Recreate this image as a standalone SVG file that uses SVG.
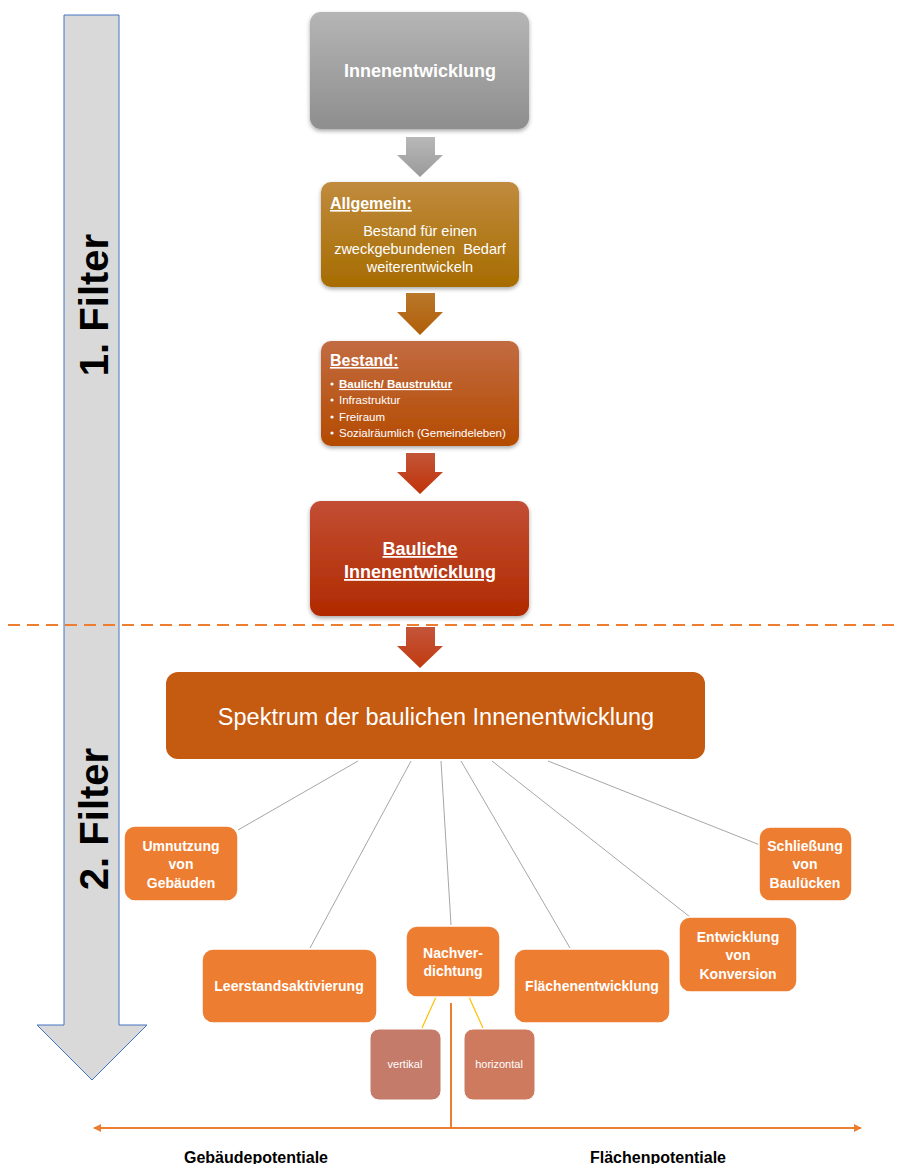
<svg xmlns="http://www.w3.org/2000/svg" width="906" height="1164" viewBox="0 0 906 1164">
<defs>
<linearGradient id="gGray" x1="0" y1="0" x2="0" y2="1"><stop offset="0" stop-color="#b5b5b5"/><stop offset="1" stop-color="#8e8e8e"/></linearGradient>
<linearGradient id="gAll" x1="0" y1="0" x2="0" y2="1"><stop offset="0" stop-color="#c08b3e"/><stop offset="1" stop-color="#a66c00"/></linearGradient>
<linearGradient id="gBes" x1="0" y1="0" x2="0" y2="1"><stop offset="0" stop-color="#c26b42"/><stop offset="1" stop-color="#b44b00"/></linearGradient>
<linearGradient id="gBau" x1="0" y1="0" x2="0" y2="1"><stop offset="0" stop-color="#c24e34"/><stop offset="1" stop-color="#b02a00"/></linearGradient>
<linearGradient id="aGray" x1="0" y1="0" x2="0" y2="1"><stop offset="0" stop-color="#b8b8b8"/><stop offset="1" stop-color="#9a9a9a"/></linearGradient>
<linearGradient id="aAll" x1="0" y1="0" x2="0" y2="1"><stop offset="0" stop-color="#b9782a"/><stop offset="1" stop-color="#b05e08"/></linearGradient>
<linearGradient id="aBes" x1="0" y1="0" x2="0" y2="1"><stop offset="0" stop-color="#c25638"/><stop offset="1" stop-color="#c03208"/></linearGradient>
<linearGradient id="aBau" x1="0" y1="0" x2="0" y2="1"><stop offset="0" stop-color="#c4553a"/><stop offset="1" stop-color="#c03a10"/></linearGradient>
<filter id="sh" x="-10%" y="-10%" width="120%" height="130%"><feDropShadow dx="0" dy="2" stdDeviation="2" flood-color="#000" flood-opacity="0.35"/></filter>
<marker id="ah" viewBox="0 0 10 10" refX="9" refY="5" markerWidth="4" markerHeight="4" orient="auto-start-reverse"><path d="M0,0 L10,5 L0,10 z" fill="#ed7d31"/></marker>
<style>
.t{font-family:"Liberation Sans",Arial,sans-serif;fill:#fff}
.b{font-weight:bold}
.u{text-decoration:underline}
.ob{fill:#ed7d31;stroke:#fff;stroke-width:1.5}
.con{stroke:#a6a6a6;stroke-width:1;fill:none}
.yl{stroke:#ffc000;stroke-width:1.2}
.lbl{font-family:"Liberation Sans",Arial,sans-serif;font-weight:bold;font-size:14px;fill:#fff;text-anchor:middle}
.bot{font-family:"Liberation Sans",Arial,sans-serif;font-weight:bold;font-size:16px;fill:#000;text-anchor:middle}
</style>
</defs>
<rect width="906" height="1164" fill="#fff"/>

<g id="filter-arrow">
<polygon points="64,15 119,15 119,1025 147,1025 92,1080 37,1025 64,1025" fill="#d9d9d9" stroke="#4472c4" stroke-width="1"/>
<text class="t b" transform="translate(108,305) rotate(-90)" text-anchor="middle" font-size="40" style="fill:#000">1. Filter</text>
<text class="t b" transform="translate(108,819) rotate(-90)" text-anchor="middle" font-size="40" style="fill:#000">2. Filter</text>
</g>

<g id="divider">
<line x1="8" y1="625" x2="900" y2="625" stroke="#ed7d31" stroke-width="2" stroke-dasharray="12,7"/>
</g>

<g id="connectors">
<polygon points="406,137 435,137 435,155 443,155 420,177 397,155 406,155" fill="url(#aGray)"/>
<polygon points="406,293 435,293 435,312 443,312 420,335 397,312 406,312" fill="url(#aAll)"/>
<polygon points="406,453 435,453 435,472 443,472 420,494 397,472 406,472" fill="url(#aBes)"/>
<polygon points="406,627 435,627 435,646 443,646 420,668 397,646 406,646" fill="url(#aBau)"/>
<line class="con" x1="358" y1="761" x2="238" y2="830"/>
<line class="con" x1="411" y1="761" x2="310" y2="948"/>
<line class="con" x1="441" y1="761" x2="451" y2="925"/>
<line class="con" x1="461" y1="761" x2="570" y2="948"/>
<line class="con" x1="492" y1="761" x2="690" y2="917"/>
<line class="con" x1="548" y1="761" x2="760" y2="845"/>
<line class="yl" x1="436" y1="997" x2="422" y2="1028"/>
<line class="yl" x1="469" y1="997" x2="483" y2="1028"/>
<line x1="451" y1="1003" x2="451" y2="1128" stroke="#ed7d31" stroke-width="2"/>
<line x1="94" y1="1128" x2="861" y2="1128" stroke="#ed7d31" stroke-width="2" marker-start="url(#ah)" marker-end="url(#ah)"/>
</g>

<g id="innenentwicklung">
<rect x="310" y="12" width="219" height="117" rx="11" fill="url(#gGray)" filter="url(#sh)"/>
<text class="t b" x="420" y="77" text-anchor="middle" font-size="18">Innenentwicklung</text>
</g>

<g id="allgemein">
<rect x="321" y="182" width="198" height="105" rx="10" fill="url(#gAll)" filter="url(#sh)"/>
<text class="t b u" x="330" y="209" font-size="16">Allgemein:</text>
<text class="t" x="420" y="236" text-anchor="middle" font-size="14.5">Bestand für einen</text>
<text class="t" x="420" y="254" text-anchor="middle" font-size="14.5" xml:space="preserve">zweckgebundenen  Bedarf</text>
<text class="t" x="420" y="272" text-anchor="middle" font-size="14.5">weiterentwickeln</text>
</g>

<g id="bestand">
<rect x="321" y="341" width="198" height="105" rx="10" fill="url(#gBes)" filter="url(#sh)"/>
<text class="t b u" x="330" y="366" font-size="16">Bestand:</text>
<g font-size="11.5">
<circle cx="332" cy="384" r="1.6" fill="#fff"/><text class="t b u" x="339" y="388">Baulich/ Baustruktur</text>
<circle cx="332" cy="400" r="1.6" fill="#fff"/><text class="t" x="339" y="404">Infrastruktur</text>
<circle cx="332" cy="417" r="1.6" fill="#fff"/><text class="t" x="339" y="421">Freiraum</text>
<circle cx="332" cy="433" r="1.6" fill="#fff"/><text class="t" x="339" y="437">Sozialräumlich (Gemeindeleben)</text>
</g>
</g>

<g id="bauliche">
<rect x="310" y="501" width="219" height="115" rx="11" fill="url(#gBau)" filter="url(#sh)"/>
<text class="t b u" x="420" y="555" text-anchor="middle" font-size="18">Bauliche</text>
<text class="t b u" x="420" y="578" text-anchor="middle" font-size="18">Innenentwicklung</text>
</g>

<g id="spektrum">
<rect x="166" y="672" width="539" height="87" rx="12" fill="#c55a11"/>
<text class="t" x="436" y="725" text-anchor="middle" font-size="23.5">Spektrum der baulichen Innenentwicklung</text>
</g>

<g id="umnutzung">
<rect class="ob" x="124" y="826" width="114" height="75" rx="11"/>
<text class="lbl" x="181" y="851">Umnutzung</text>
<text class="lbl" x="181" y="869">von</text>
<text class="lbl" x="181" y="888">Gebäuden</text>
</g>

<g id="leerstand">
<rect class="ob" x="202" y="949" width="175" height="74" rx="11"/>
<text class="lbl" x="289" y="991">Leerstandsaktivierung</text>
</g>

<g id="nachverdichtung">
<rect class="ob" x="406" y="926" width="94" height="71" rx="11"/>
<text class="lbl" x="453" y="958">Nachver-</text>
<text class="lbl" x="453" y="976">dichtung</text>
</g>

<g id="vertikal">
<rect x="370" y="1029" width="71" height="71" rx="9" fill="#c47b69" stroke="#fff" stroke-width="1"/>
<text class="t" x="405" y="1068" text-anchor="middle" font-size="11">vertikal</text>
</g>

<g id="horizontal">
<rect x="464" y="1029" width="71" height="71" rx="9" fill="#ce7a5f" stroke="#fff" stroke-width="1"/>
<text class="t" x="499" y="1068" text-anchor="middle" font-size="11">horizontal</text>
</g>

<g id="flaechenentwicklung">
<rect class="ob" x="514" y="949" width="156" height="74" rx="11"/>
<text class="lbl" x="592" y="991">Flächenentwicklung</text>
</g>

<g id="konversion">
<rect class="ob" x="679" y="917" width="118" height="75" rx="11"/>
<text class="lbl" x="738" y="942">Entwicklung</text>
<text class="lbl" x="738" y="960">von</text>
<text class="lbl" x="738" y="979">Konversion</text>
</g>

<g id="schliessung">
<rect class="ob" x="759" y="827" width="93" height="74" rx="11"/>
<text class="lbl" x="805" y="851">Schließung</text>
<text class="lbl" x="805" y="869">von</text>
<text class="lbl" x="805" y="888">Baulücken</text>
</g>

<g id="labels">
<text class="bot" x="256" y="1163">Gebäudepotentiale</text>
<text class="bot" x="658" y="1163">Flächenpotentiale</text>
</g>
</svg>
